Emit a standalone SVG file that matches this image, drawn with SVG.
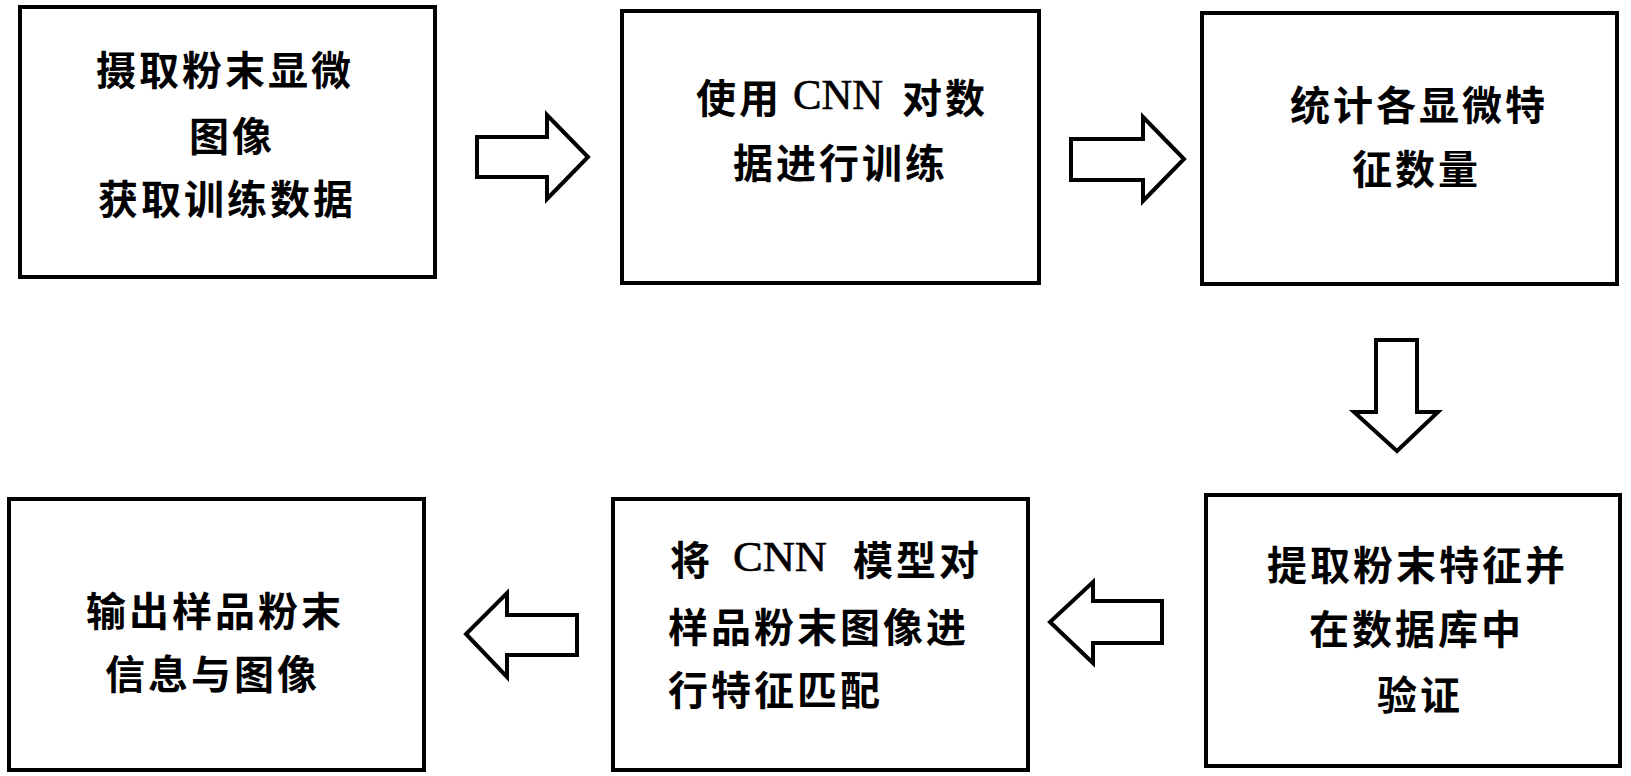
<svg xmlns="http://www.w3.org/2000/svg" width="1631" height="776" viewBox="0 0 1631 776">
<style>
.box{fill:#fff;stroke:#000;stroke-width:4}
.arr{fill:#fff;stroke:#000;stroke-width:4;stroke-linejoin:miter}
.t{font-family:"Noto Sans CJK SC","Noto Sans CJK TC",sans-serif;font-size:40px;font-weight:700;letter-spacing:3px;fill:#000;dominant-baseline:central}
.l{font-family:"Liberation Serif",serif;font-weight:400;font-size:42px;letter-spacing:0;stroke:#000;stroke-width:0.6}
</style>
<rect width="1631" height="776" fill="#fff"/>
<g id="connectors">
<polygon class="arr" points="477,137 547,137 547,115 588,157 547,199 547,177 477,177"/>
<polygon class="arr" points="1071,139 1143,139 1143,117 1184,159 1143,201 1143,180 1071,180"/>
<polygon class="arr" points="1376,340 1417,340 1417,412 1438,412 1397,451 1354,412 1376,412"/>
<polygon class="arr" points="1162,601 1093,601 1093,582 1050,622 1093,663 1093,643 1162,643"/>
<polygon class="arr" points="577,615 507,615 507,593 466,634 507,677 507,655 577,655"/>
</g>
<g id="node1">
<rect class="box" x="20" y="7" width="415" height="270"/>
<text class="t" x="96" y="68">摄取粉末显微</text>
<text class="t" x="189" y="134">图像</text>
<text class="t" x="98" y="197">获取训练数据</text>
</g>
<g id="node2">
<rect class="box" x="622" y="11" width="417" height="272"/>
<text class="t" x="696" y="96">使用</text>
<text class="l" x="793" y="109" textLength="90" lengthAdjust="spacingAndGlyphs">CNN</text>
<text class="t" x="902" y="96">对数</text>
<text class="t" x="733" y="161">据进行训练</text>
</g>
<g id="node3">
<rect class="box" x="1202" y="13" width="415" height="271"/>
<text class="t" x="1290" y="103">统计各显微特</text>
<text class="t" x="1352" y="167">征数量</text>
</g>
<g id="node4">
<rect class="box" x="1206" y="495" width="414" height="271"/>
<text class="t" x="1267" y="563">提取粉末特征并</text>
<text class="t" x="1309" y="627">在数据库中</text>
<text class="t" x="1377" y="693">验证</text>
</g>
<g id="node5">
<rect class="box" x="613" y="499" width="415" height="271"/>
<text class="t" x="670" y="558">将</text>
<text class="l" x="733" y="571" textLength="94" lengthAdjust="spacingAndGlyphs">CNN</text>
<text class="t" x="853" y="558">模型对</text>
<text class="t" x="668" y="625">样品粉末图像进</text>
<text class="t" x="668" y="688">行特征匹配</text>
</g>
<g id="node6">
<rect class="box" x="9" y="499" width="415" height="271"/>
<text class="t" x="86" y="609">输出样品粉末</text>
<text class="t" x="105" y="672">信息与图像</text>
</g>
</svg>
